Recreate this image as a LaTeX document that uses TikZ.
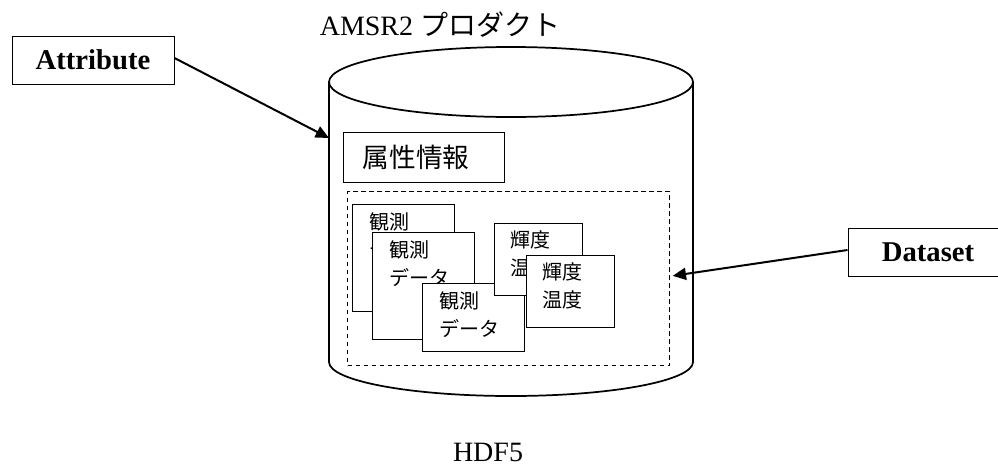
\documentclass[tikz,border=0pt]{standalone}
\usepackage{fontspec}
\setmainfont{Liberation Serif}
\newfontfamily\jp{Noto Sans CJK JP}
\usetikzlibrary{arrows.meta}
\begin{document}
\begin{tikzpicture}[x=0.75pt,y=-0.75pt,
  lbl/.style={draw,line width=0.75pt,inner sep=0pt,font=\fontsize{21.5}{24}\selectfont\bfseries},
  card/.style={draw,line width=0.75pt,fill=white,anchor=north west,inner sep=0pt},
  cardtext/.style={anchor=north west,inner sep=0pt,align=left,font=\jp\fontsize{15}{21}\selectfont},
  arr/.style={line width=1.5pt,-{Triangle[length=10pt,width=9pt]}},
  cyl/.style={line width=1.3pt}]
\useasboundingbox (0,0) rectangle (998,465);
% cylinder
\draw[cyl] (511,82) ellipse [x radius=136.5pt, y radius=26.25pt];
\draw[cyl] (329,82) -- (329,362) arc[start angle=180, end angle=360, x radius=136.5pt, y radius=25.5pt] -- (693,82);
\coordinate (cylL) at (329,138);
% title and footer
\node[font=\fontsize{21}{24}\selectfont] (title) at (440,25) {AMSR2 {\jp プロダクト}};
\node[font=\fontsize{21}{24}\selectfont,inner sep=1pt] (hdf) at (488,452) {HDF5};
% attribute info box
\node[card,minimum width=161*0.75pt,minimum height=50*0.75pt] (zok) at (343,132) {};
\node[font=\jp\fontsize{20}{24}\selectfont] (zokt) at (416,157) {属性情報};
% dataset dashed area
\node[draw,dashed,dash pattern=on 3.5pt off 2.5pt,line width=0.75pt,anchor=north west,inner sep=0pt,minimum width=322*0.75pt,minimum height=174*0.75pt] (dsrect) at (347,191) {};
% cards
\node[card,minimum width=102*0.75pt,minimum height=107*0.75pt] (c1) at (352,204) {};
\node[cardtext] (c1t) at (369,212) {観測\\データ};
\node[card,minimum width=102*0.75pt,minimum height=107*0.75pt] (c2) at (372,232) {};
\node[cardtext] (c2t) at (389,240) {観測\\データ};
\node[card,minimum width=102*0.75pt,minimum height=68*0.75pt] (c3) at (422,283) {};
\node[cardtext] (c3t) at (439,291) {観測\\データ};
\node[card,minimum width=88*0.75pt,minimum height=72*0.75pt] (c4) at (494,223) {};
\node[cardtext] (c4t) at (510,230) {輝度\\温度};
\node[card,minimum width=88*0.75pt,minimum height=72*0.75pt] (c5) at (526,255) {};
\node[cardtext] (c5t) at (542,262) {輝度\\温度};
% labels
\node[lbl,minimum width=162*0.75pt,minimum height=48*0.75pt] (attr) at (93,60) {Attribute};
\node[lbl,minimum width=160*0.75pt,minimum height=48*0.75pt] (dset) at (928,252) {Dataset};
% arrows
\draw[arr] ([yshift=1.5pt]attr.east) -- (cylL);
\draw[arr] ([yshift=1.5pt]dset.west) -- ([xshift=2pt,yshift=2pt]dsrect.east);
\end{tikzpicture}
\end{document}
